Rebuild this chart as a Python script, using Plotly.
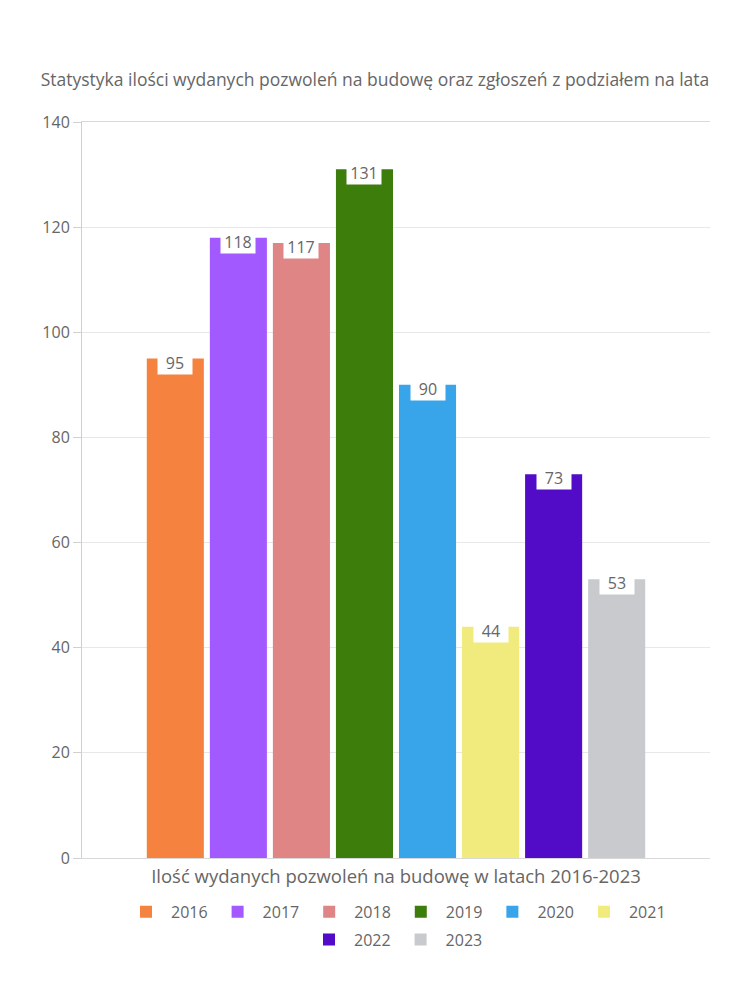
import plotly.graph_objects as go

years = ["2016", "2017", "2018", "2019", "2020", "2021", "2022", "2023"]
values = [95, 118, 117, 131, 90, 44, 73, 53]
colors = ["#F5833F", "#A259FF", "#E08585", "#3D7D0C", "#38A4EA", "#F0EB7C", "#520BC6", "#C9CACE"]
legend_rows = ["legend", "legend", "legend", "legend", "legend", "legend", "legend2", "legend2"]
title_text = "Statystyka ilości wydanych pozwoleń na budowę oraz zgłoszeń z podziałem na lata"
xaxis_title = "Ilość wydanych pozwoleń na budowę w latach 2016-2023"
y_ticks = [0, 20, 40, 60, 80, 100, 120, 140]

FONT = "'Open Sans', 'Noto Sans', sans-serif"
TXT = "#666666"

fig = go.Figure()
for yr, v, c, lg in zip(years, values, colors, legend_rows):
    fig.add_trace(go.Bar(
        x=[int(yr)], y=[v], name=yr, marker=dict(color=c, line=dict(width=0)),
        width=0.905, hoverinfo="skip", legend=lg,
    ))
    fig.add_annotation(
        x=int(yr), y=v, xref="x", yref="y", text=str(v), showarrow=False,
        yanchor="top", yshift=8, bgcolor="white", width=32, height=20,
        borderpad=1, font=dict(family=FONT, size=16, color=TXT),
    )

legend_common = dict(orientation="h", xanchor="center", yanchor="middle",
                     font=dict(family=FONT, size=16, color=TXT), traceorder="normal",
                     itemwidth=40)

fig.update_layout(
    width=750, height=1000,
    margin=dict(l=82, r=40, t=122, b=142),
    paper_bgcolor="white", plot_bgcolor="white",
    barmode="overlay",
    font=dict(family=FONT, color=TXT),
    title=dict(text=title_text, x=0.5, xanchor="center", y=0.92, yanchor="middle",
               font=dict(family=FONT, size=17.5, color=TXT)),
    showlegend=True,
    legend=dict(x=0.5, y=-0.073, **legend_common),
    legend2=dict(x=0.5, y=-0.111, **legend_common),
    xaxis=dict(range=[2014.52, 2024.48], showticklabels=False, showgrid=False,
               showline=True, linecolor="#d9d9d9", linewidth=1, mirror=True, zeroline=False,
               ticks="", title=dict(text=xaxis_title, font=dict(family=FONT, size=18.5, color=TXT),
                                    standoff=12)),
    yaxis=dict(range=[0, 140], tickvals=y_ticks, showgrid=True, gridcolor="#e8e8e8",
               showline=True, linecolor="#d0d0d0", linewidth=1, zeroline=False,
               ticks="outside", ticklen=8, tickcolor="#d0d0d0",
               tickfont=dict(family=FONT, size=16, color=TXT)),
)

fig.write_html("out.html")
